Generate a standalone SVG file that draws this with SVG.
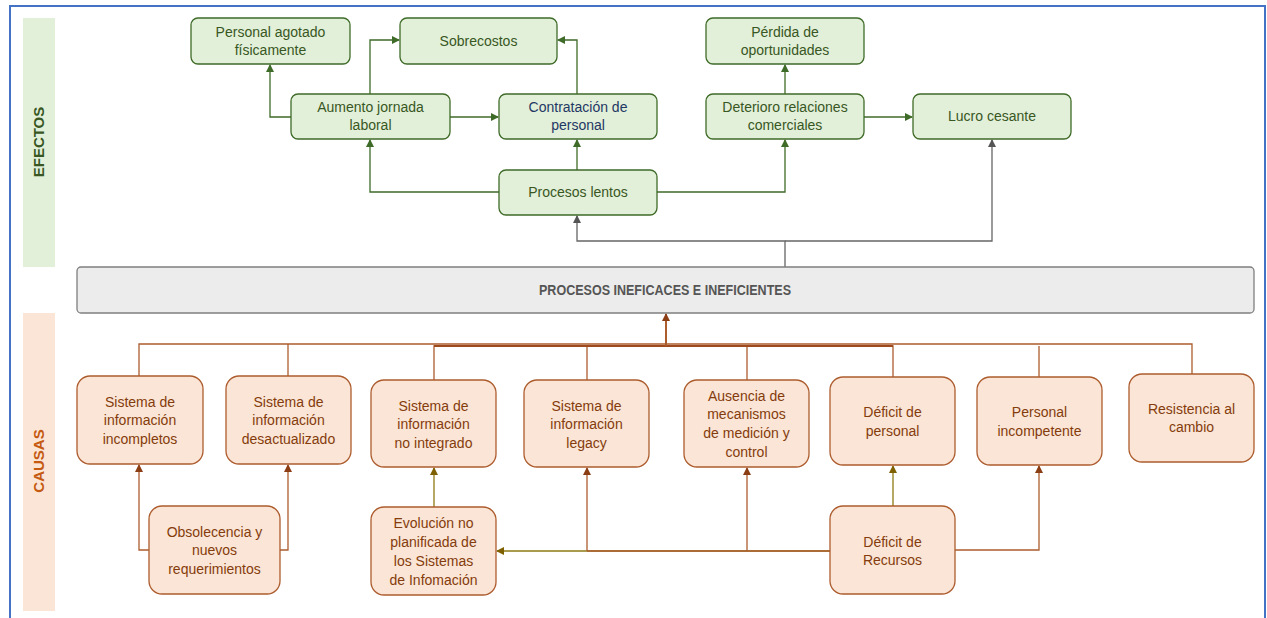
<svg xmlns="http://www.w3.org/2000/svg" width="1267" height="618" viewBox="0 0 1267 618">
<defs>
<style>
.g rect{fill:#e2efd9;stroke:#3f6b28;stroke-width:1.3}
.g text{fill:#385723}
.c rect{fill:#fbe5d6;stroke:#ad5c2e;stroke-width:1.3}
.c text{fill:#843c0c}
text{font-family:"Liberation Sans",Arial,sans-serif;font-size:14px;text-anchor:middle}
.lg{fill:none;stroke:#3f6b28;stroke-width:1.3}
.lgr{fill:none;stroke:#666;stroke-width:1.3}
.lb{fill:none;stroke:#ad5c2e;stroke-width:1.3}
.lo{fill:none;stroke:#8c7a12;stroke-width:1.3}
</style>
<marker id="ag" markerWidth="8" markerHeight="8" refX="7" refY="4" orient="auto" markerUnits="userSpaceOnUse"><path d="M0,0 L8,4 L0,8 z" fill="#3f6b28"/></marker>
<marker id="agr" markerWidth="8" markerHeight="8" refX="7" refY="4" orient="auto" markerUnits="userSpaceOnUse"><path d="M0,0 L8,4 L0,8 z" fill="#555"/></marker>
<marker id="ab" markerWidth="8" markerHeight="8" refX="7" refY="4" orient="auto" markerUnits="userSpaceOnUse"><path d="M0,0 L8,4 L0,8 z" fill="#8b3e14"/></marker>
<marker id="ao" markerWidth="8" markerHeight="8" refX="7" refY="4" orient="auto" markerUnits="userSpaceOnUse"><path d="M0,0 L8,4 L0,8 z" fill="#7f6000"/></marker>
</defs>
<rect x="0" y="0" width="1267" height="618" fill="#fff"/>
<rect x="10" y="6" width="1255" height="640" fill="none" stroke="#4472c4" stroke-width="2"/>

<g id="band-efectos">
<rect x="23" y="18" width="32" height="249" fill="#e2efd9"/>
<text transform="translate(44,142) rotate(-90)" style="font-weight:bold;font-size:15px;fill:#385723">EFECTOS</text>
</g>
<g id="band-causas">
<rect x="23" y="313" width="32" height="298" fill="#fbe5d6"/>
<text transform="translate(44,461) rotate(-90)" style="font-weight:bold;font-size:15px;fill:#c55a11">CAUSAS</text>
</g>

<g id="connectors">
<path class="lg" d="M291,117 H270 V65" marker-end="url(#ag)"/>
<path class="lg" d="M370,94 V40 H399" marker-end="url(#ag)"/>
<path class="lg" d="M450,117 H498" marker-end="url(#ag)"/>
<path class="lg" d="M577,94 V40 H558" marker-end="url(#ag)"/>
<path class="lg" d="M577,170 V140" marker-end="url(#ag)"/>
<path class="lg" d="M499,192 H370 V140" marker-end="url(#ag)"/>
<path class="lg" d="M657,192 H785 V140" marker-end="url(#ag)"/>
<path class="lg" d="M785,94 V65" marker-end="url(#ag)"/>
<path class="lg" d="M864,117 H912" marker-end="url(#ag)"/>
<path class="lgr" d="M785,267 V241 H577 V216" marker-end="url(#agr)"/>
<path class="lgr" d="M785,241 H992 V140" marker-end="url(#agr)"/>
<path class="lb" d="M139,376 V344 H666"/>
<path class="lb" d="M288,376 V344"/>
<path class="lb" d="M434,380 V346 H666"/>
<path class="lb" d="M587,380 V346"/>
<path class="lb" d="M747,380 V346"/>
<path class="lb" d="M893,377 V346 H666"/>
<path class="lb" d="M1039,377 V346"/>
<path class="lb" d="M1192,374 V344 H666"/>
<path d="M434,346 H893" fill="none" stroke="#9c4a1e" stroke-width="2.2"/>
<path class="lb" d="M666,346 V314" marker-end="url(#ab)" style="stroke-width:2"/>
<path class="lb" d="M149,550 H139 V465" marker-end="url(#ab)"/>
<path class="lb" d="M280,550 H288 V465" marker-end="url(#ab)"/>
<path class="lo" d="M434,507 V468" marker-end="url(#ao)"/>
<path class="lo" d="M830,551 H497" marker-end="url(#ao)"/>
<path class="lb" d="M587,551 V468" marker-end="url(#ab)"/>
<path class="lb" d="M747,551 V468" marker-end="url(#ab)"/>
<path class="lb" d="M587,551 H830"/>
<path class="lo" d="M893,506 V466" marker-end="url(#ao)"/>
<path class="lb" d="M955,550 H1039 V466" marker-end="url(#ab)"/>
</g>

<g id="main-problem">
<rect x="77" y="267" width="1177" height="46" rx="4" fill="#ececec" stroke="#7f7f7f" stroke-width="1.3"/>
<text x="665" y="295" style="font-weight:bold;font-size:14px;fill:#555" textLength="252" lengthAdjust="spacingAndGlyphs">PROCESOS INEFICACES E INEFICIENTES</text>
</g>

<g id="personal-agotado" class="g"><rect x="191" y="18" width="159" height="46" rx="7"/><text x="270.5" y="37">Personal agotado</text><text x="270.5" y="55">físicamente</text></g>
<g id="sobrecostos" class="g"><rect x="400" y="18" width="157" height="46" rx="7"/><text x="478.5" y="46">Sobrecostos</text></g>
<g id="perdida" class="g"><rect x="706" y="18" width="158" height="46" rx="7"/><text x="785" y="37">Pérdida de</text><text x="785" y="55">oportunidades</text></g>
<g id="aumento" class="g"><rect x="291" y="94" width="159" height="45" rx="7"/><text x="370.5" y="112">Aumento jornada</text><text x="370.5" y="130">laboral</text></g>
<g id="contratacion" class="g"><rect x="499" y="94" width="158" height="45" rx="7"/><text x="578" y="112" style="fill:#1f3864">Contratación de</text><text x="578" y="130" style="fill:#1f3864">personal</text></g>
<g id="deterioro" class="g"><rect x="706" y="94" width="158" height="45" rx="7"/><text x="785" y="112">Deterioro relaciones</text><text x="785" y="130">comerciales</text></g>
<g id="lucro" class="g"><rect x="913" y="94" width="158" height="45" rx="7"/><text x="992" y="121">Lucro cesante</text></g>
<g id="procesos-lentos" class="g"><rect x="499" y="170" width="158" height="45" rx="7"/><text x="578" y="197">Procesos lentos</text></g>

<g id="si-incompletos" class="c"><rect x="77" y="376" width="126" height="88" rx="13"/><text x="140" y="407">Sistema de</text><text x="140" y="425">información</text><text x="140" y="444">incompletos</text></g>
<g id="si-desactualizado" class="c"><rect x="226" y="376" width="125" height="88" rx="13"/><text x="288.5" y="407">Sistema de</text><text x="288.5" y="425">información</text><text x="288.5" y="444">desactualizado</text></g>
<g id="si-no-integrado" class="c"><rect x="371" y="380" width="125" height="87" rx="13"/><text x="433.5" y="411">Sistema de</text><text x="433.5" y="429">información</text><text x="433.5" y="448">no integrado</text></g>
<g id="si-legacy" class="c"><rect x="524" y="380" width="125" height="87" rx="13"/><text x="586.5" y="411">Sistema de</text><text x="586.5" y="429">información</text><text x="586.5" y="448">legacy</text></g>
<g id="ausencia" class="c"><rect x="684" y="380" width="125" height="87" rx="13"/><text x="746.5" y="401">Ausencia de</text><text x="746.5" y="419">mecanismos</text><text x="746.5" y="438">de medición y</text><text x="746.5" y="457">control</text></g>
<g id="deficit-personal" class="c"><rect x="830" y="377" width="125" height="88" rx="13"/><text x="892.5" y="417">Déficit de</text><text x="892.5" y="436">personal</text></g>
<g id="personal-incompetente" class="c"><rect x="977" y="377" width="125" height="88" rx="13"/><text x="1039.5" y="417">Personal</text><text x="1039.5" y="436">incompetente</text></g>
<g id="resistencia" class="c"><rect x="1129" y="374" width="125" height="88" rx="13"/><text x="1191.5" y="414">Resistencia al</text><text x="1191.5" y="432">cambio</text></g>
<g id="obsolecencia" class="c"><rect x="149" y="506" width="131" height="88" rx="13"/><text x="214.5" y="537">Obsolecencia y</text><text x="214.5" y="555">nuevos</text><text x="214.5" y="574">requerimientos</text></g>
<g id="evolucion" class="c"><rect x="371" y="507" width="125" height="88" rx="13"/><text x="433.5" y="528">Evolución no</text><text x="433.5" y="547">planificada de</text><text x="433.5" y="566">los Sistemas</text><text x="433.5" y="585">de Infomación</text></g>
<g id="deficit-recursos" class="c"><rect x="830" y="506" width="125" height="88" rx="13"/><text x="892.5" y="547">Déficit de</text><text x="892.5" y="565">Recursos</text></g>
</svg>
